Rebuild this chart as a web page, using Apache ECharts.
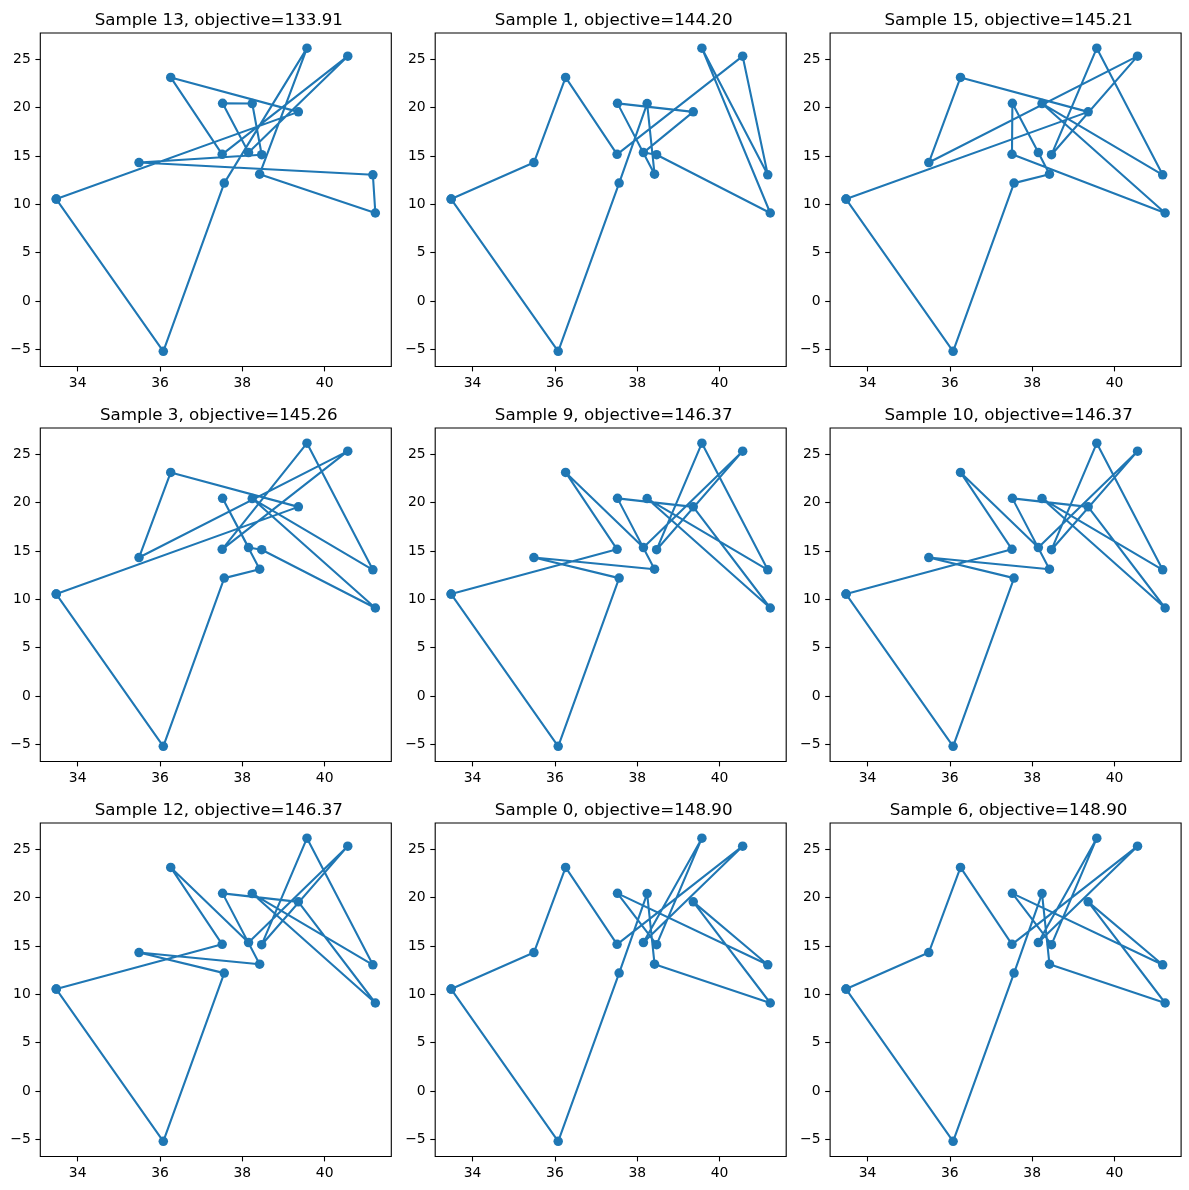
<!DOCTYPE html>
<html>
<head>
<meta charset="utf-8">
<script src="https://cdn.jsdelivr.net/npm/echarts@6/dist/echarts.min.js"></script>
<style>
  html, body { margin: 0; padding: 0; background: #fff; }
  #chart { width: 1189px; height: 1190px; }
</style>
</head>
<body>
<div id="chart"></div>
<script>
// city coordinates
const cityX = [38.24, 39.57, 40.56, 36.26, 33.48, 37.56, 38.42, 37.52, 41.23, 41.17, 36.08, 38.47, 38.15, 37.51, 35.49, 39.36]
const cityY = [20.42, 26.15, 25.32, 23.12, 10.54, 12.19, 13.11, 20.44, 9.10, 13.05, -5.21, 15.13, 15.35, 15.17, 14.32, 19.56]

// one panel per sample, sorted by objective
const sampleIds = [13, 1, 15, 3, 9, 10, 12, 0, 6]
const objectives = [133.91, 144.20, 145.21, 145.26, 146.37, 146.37, 146.37, 148.90, 148.90]
const tours = [
    [4, 10, 5, 1, 6, 8, 9, 14, 11, 0, 7, 12, 2, 13, 3, 15],
    [4, 10, 5, 0, 6, 7, 15, 12, 11, 8, 1, 9, 2, 13, 3, 14],
    [4, 10, 5, 6, 12, 7, 13, 8, 0, 9, 1, 11, 2, 14, 3, 15],
    [4, 10, 5, 6, 7, 12, 11, 8, 0, 9, 1, 13, 2, 14, 3, 15],
    [4, 10, 5, 14, 6, 7, 15, 8, 0, 9, 1, 11, 2, 12, 3, 13],
    [4, 10, 5, 14, 6, 7, 15, 8, 0, 9, 1, 11, 2, 12, 3, 13],
    [4, 10, 5, 14, 6, 7, 15, 8, 0, 9, 1, 11, 2, 12, 3, 13],
    [4, 10, 5, 0, 6, 8, 15, 9, 7, 11, 1, 12, 2, 13, 3, 14],
    [4, 10, 5, 0, 6, 8, 15, 9, 7, 11, 1, 12, 2, 13, 3, 14]
]

const xTicks = [34, 36, 38, 40]
const xTickLabels = ['34', '36', '38', '40']
const yTicks = [-5, 0, 5, 10, 15, 20, 25]
const yTickLabels = ['\u22125', '0', '5', '10', '15', '20', '25']

// panel geometry (px)
const gridLeft0 = 40.3, colStep = 394.9
const gridTop0 = 33, rowStep = 395
const gridW = 351, gridH = 333.5

const blue = '#1f77b4'
const font = 'DejaVu Sans'

// same autoscale as matplotlib: 5% margin on each side
function padRange(arr) {
    let lo = Math.min(...arr), hi = Math.max(...arr)
    let m = (hi - lo) * 0.05
    return [lo - m, hi + m]
}
const xr = padRange(cityX)
const yr = padRange(cityY)

let grids = [], xAxes = [], yAxes = [], titles = [], series = []
for (let i = 0; i < tours.length; i++) {
    let row = Math.floor(i / 3), col = i % 3
    let left = gridLeft0 + col * colStep
    let top = gridTop0 + row * rowStep
    grids.push({
        left: left, top: top, width: gridW, height: gridH,
        show: true, borderColor: '#000', borderWidth: 1.1, backgroundColor: '#fff'
    })
    titles.push({
        text: 'Sample ' + sampleIds[i] + ', objective=' + objectives[i].toFixed(2),
        left: left + gridW / 2 - 2, top: top - 26, textAlign: 'center',
        textStyle: { fontFamily: font, fontSize: 16.7, fontWeight: 'normal', color: '#000' }
    })
    xAxes.push({
        type: 'value', gridIndex: i, min: xr[0], max: xr[1],
        axisLine: { show: false, onZero: false },
        splitLine: { show: false },
        axisTick: { show: true, length: 4.9, lineStyle: { color: '#000', width: 1.1 }, customValues: xTicks },
        axisLabel: {
            margin: 9.5, color: '#000', fontFamily: font, fontSize: 13.9,
            customValues: xTicks,
            formatter: v => xTickLabels[xTicks.indexOf(v)]
        }
    })
    yAxes.push({
        type: 'value', gridIndex: i, min: yr[0], max: yr[1],
        axisLine: { show: false, onZero: false },
        splitLine: { show: false },
        axisTick: { show: true, length: 4.9, lineStyle: { color: '#000', width: 1.1 }, customValues: yTicks },
        axisLabel: {
            margin: 9.5, color: '#000', fontFamily: font, fontSize: 13.9,
            customValues: yTicks,
            formatter: v => yTickLabels[yTicks.indexOf(v)]
        }
    })
    let pts = tours[i].map(c => [cityX[c], cityY[c]])
    pts.push(pts[0]) // close the tour
    series.push({
        type: 'line', xAxisIndex: i, yAxisIndex: i,
        data: pts,
        symbol: 'circle', symbolSize: 9.5, showSymbol: true,
        itemStyle: { color: blue },
        lineStyle: { color: blue, width: 2.1 },
        emphasis: { disabled: true },
        animation: false
    })
}

let option = {
    backgroundColor: '#fff',
    animation: false,
    title: titles,
    grid: grids,
    xAxis: xAxes,
    yAxis: yAxes,
    series: series
}
let chartDom = echarts.init(document.querySelector('#chart'))
chartDom.setOption(option)
</script>
</body>
</html>
